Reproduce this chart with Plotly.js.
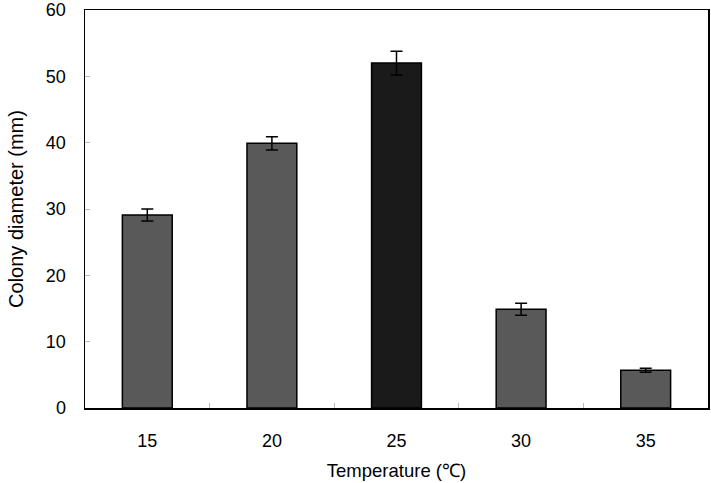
<!DOCTYPE html>
<html>
<head>
<meta charset="utf-8">
<script src="https://cdn.plot.ly/plotly-3.0.1.min.js"></script>
<style>html,body{margin:0;padding:0;background:#fff}</style>
</head>
<body>
<div id="chart" style="width:711px;height:483px"></div>
<script>
var temps = ['15', '20', '25', '30', '35'];
var diameters = [29.1, 39.9, 52.0, 14.9, 5.7];
var errs = [0.9, 1.0, 1.8, 0.9, 0.3];
var barColors = ['#595959', '#595959', '#1a1a1a', '#595959', '#595959'];

var trace = {
  type: 'bar',
  x: temps,
  y: diameters,
  marker: {color: barColors, line: {color: '#000', width: 1.5}},
  error_y: {type: 'data', array: errs, visible: true, color: '#000', thickness: 1.5, width: 6},
  hoverinfo: 'skip'
};

var layout = {
  width: 711, height: 483,
  margin: {l: 85, r: 3, t: 10, b: 75},
  paper_bgcolor: '#fff', plot_bgcolor: '#fff',
  font: {family: 'Liberation Sans, Arial, sans-serif', color: '#000', size: 18},
  bargap: 0.6,
  showlegend: false,
  xaxis: {
    type: 'category',
    showline: true, linecolor: '#000', linewidth: 1.5, mirror: true,
    ticks: 'inside', tickson: 'boundaries', ticklen: 5, tickcolor: '#bbb',
    ticklabelstandoff: 16,
    tickfont: {size: 18},
    title: {text: 'Temperature (℃)\u00a0\u00a0\u00a0\u00a0\u00a0', font: {size: 18.5}, standoff: 14}
  },
  yaxis: {
    range: [0, 60], dtick: 10,
    showline: true, linecolor: '#000', linewidth: 1.5, mirror: true,
    showgrid: false, zeroline: false,
    ticks: 'inside', ticklen: 5, tickcolor: '#bbb',
    ticklabelstandoff: 14,
    tickfont: {size: 18},
    title: {text: 'Colony diameter (mm)', font: {size: 20}, standoff: 17}
  }
};

Plotly.newPlot('chart', [trace], layout, {displayModeBar: false, staticPlot: true});
</script>
</body>
</html>
